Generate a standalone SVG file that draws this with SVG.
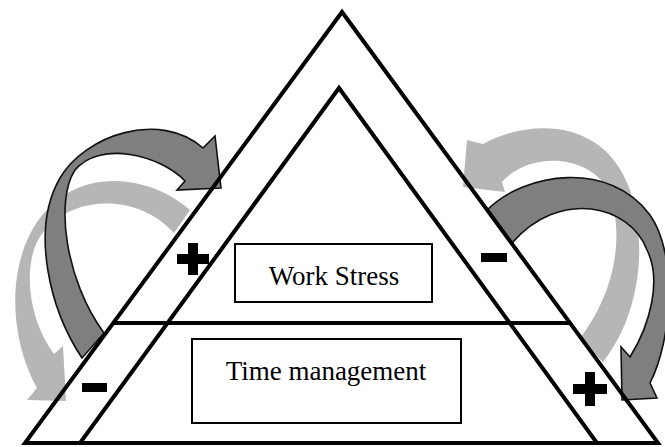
<svg xmlns="http://www.w3.org/2000/svg" width="665" height="447" viewBox="0 0 665 447">
  <defs>
    <style>
      .tri { fill: none; stroke: #000; stroke-width: 4; stroke-linejoin: miter; }
      .box { fill: #fff; stroke: #000; stroke-width: 2; }
      .label { font-family: "Liberation Serif", "Times New Roman", serif; font-size: 27px; fill: #000; text-anchor: middle; }
      .arrow-dark { fill: #7f7f7f; stroke: #111; stroke-width: 1.6; stroke-linejoin: miter; }
      .arrow-light { fill: #b6b6b6; stroke: none; }
      .sign { fill: #000; }
    </style>
    <filter id="soft" x="-5%" y="-200%" width="110%" height="500%">
      <feGaussianBlur stdDeviation="1.5"/>
    </filter>
  </defs>

  <rect width="665" height="447" fill="#fff"/>

  <!-- feedback arrows -->
  <g id="connectors">
    <!-- left side: light arrow runs from the upper band down to the lower band -->
    <path id="arrow-left-light" class="arrow-light"
          d="M 190 210 C 150 175, 80 165, 40 218 C 5 265, 10 340, 37 388
             L 27 400 L 66 401 L 63 346 L 54 354
             C 25 315, 20 250, 50 225 C 80 195, 140 195, 174 233 Z"/>
    <!-- left side: dark arrow runs from the lower band up to the upper band -->
    <path id="arrow-left-dark" class="arrow-dark"
          d="M 82 358 C 50 310, 30 230, 60 178 C 85 135, 160 110, 203 148
             L 215 136 L 221 188 L 177 190 L 185 181
             C 160 155, 100 140, 75 170 C 55 200, 65 280, 104 333 Z"/>
    <!-- right side: light arrow runs from the lower band up to the upper band -->
    <path id="arrow-right-light" class="arrow-light"
          d="M 483 144 C 530 118, 605 118, 630 190 C 648 245, 640 315, 603 362
             L 580 338 C 610 300, 628 240, 608 190 C 590 155, 530 150, 502 182
             L 505 192 L 463 187 L 467 140 Z"/>
    <!-- right side: dark arrow runs from the upper band down to the lower band -->
    <path id="arrow-right-dark" class="arrow-dark"
          d="M 487 210 C 525 172, 610 160, 650 215 C 678 255, 672 340, 650 383
             L 657 398 L 622 400 L 621 347 L 630 357
             C 650 325, 662 280, 647 250 C 630 205, 560 188, 512 243 Z"/>
  </g>

  <!-- nested triangles -->
  <g id="pyramid">
    <polygon class="tri" points="342,12 25,443 658,443"/>
    <polygon class="tri" points="339,88 80,443 597,443"/>
    <!-- divider between the two levels, with its soft shadow -->
    <line x1="116" y1="328" x2="567" y2="328" stroke="#9a9a9a" stroke-width="4" filter="url(#soft)"/>
    <line x1="114" y1="323" x2="569" y2="323" stroke="#000" stroke-width="4"/>
  </g>

  <!-- level labels -->
  <g id="work-stress">
    <rect class="box" x="235" y="244" width="197" height="58"/>
    <text class="label" x="334" y="285">Work Stress</text>
  </g>
  <g id="time-management">
    <rect class="box" x="192" y="339" width="269" height="84"/>
    <text class="label" x="326" y="380">Time management</text>
  </g>

  <!-- polarity signs -->
  <g id="sign-left-plus">
    <path class="sign" d="M 188 243 h 10 v 11 h 11 v 10 h -11 v 11 h -10 v -11 h -11 v -10 h 11 Z"/>
  </g>
  <g id="sign-left-minus">
    <rect class="sign" x="82" y="383" width="25" height="9"/>
  </g>
  <g id="sign-right-minus">
    <rect class="sign" x="481" y="253" width="26" height="9"/>
  </g>
  <g id="sign-right-plus">
    <path class="sign" d="M 585 372 h 10 v 12 h 12 v 10 h -12 v 12 h -10 v -12 h -12 v -10 h 12 Z"/>
  </g>
</svg>
